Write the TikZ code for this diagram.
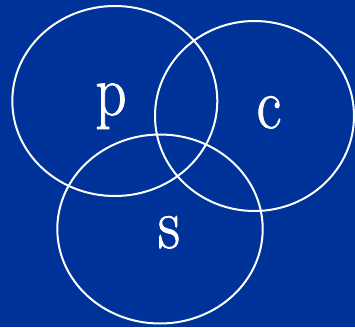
\documentclass[tikz,border=0pt]{standalone}
\usepackage{fontspec}
\newfontfamily\lblfont{Latin Modern Roman}[FakeBold=1.2,FakeStretch=0.84]
\definecolor{bgblue}{RGB}{0,51,153}
\begin{document}
\begin{tikzpicture}[x=1pt,y=-1pt,
  ring/.style={draw=white,line width=2pt},
  lbl/.style={text=white,font=\lblfont\fontsize{72}{72}\selectfont,anchor=base,inner sep=0pt}]
\fill[bgblue] (0,0) rectangle (355,327);
\useasboundingbox (0,0) rectangle (355,327);
\draw[ring] (114.8,101) ellipse [x radius=102.5, y radius=95];
\draw[ring] (254.5,116) ellipse [x radius=99.5, y radius=95];
\draw[ring] (160,229) ellipse [x radius=102.7, y radius=94.5];
\node[lbl] (p) at (111,115) {p};
\node[lbl] (c) at (269,128) {c};
\node[lbl] (s) at (169,248) {s};
\end{tikzpicture}
\end{document}
